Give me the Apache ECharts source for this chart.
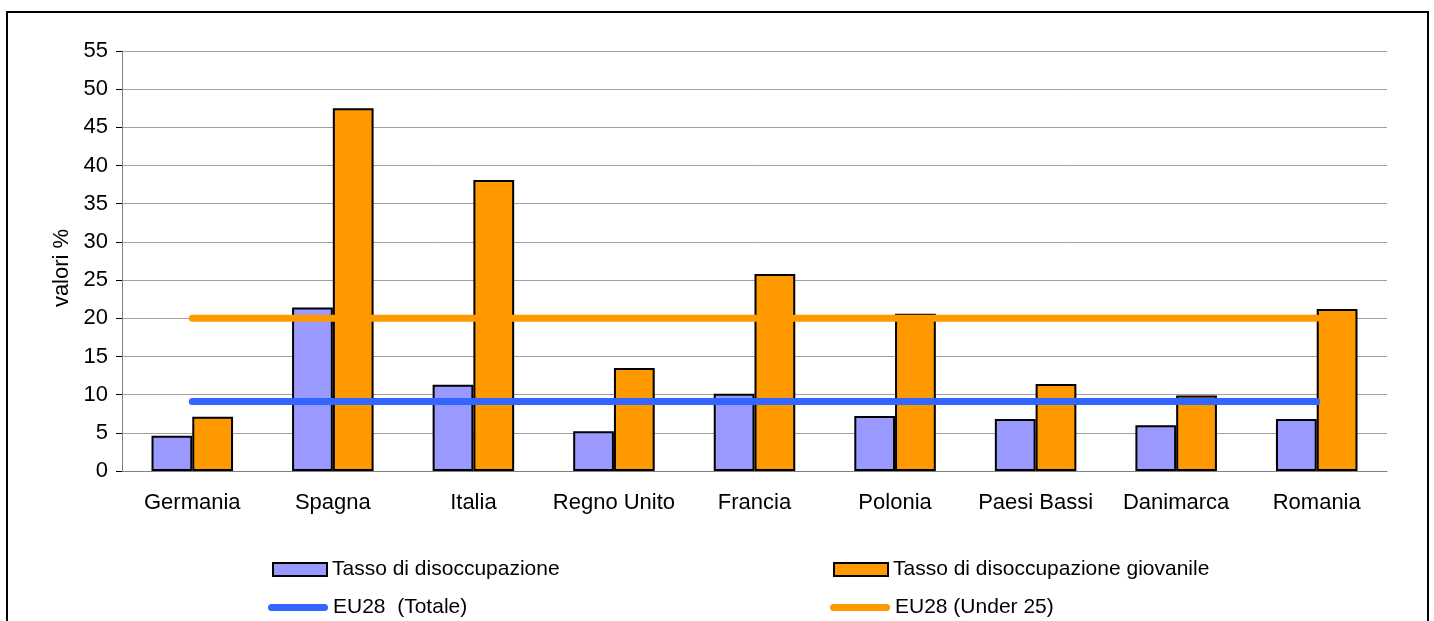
<!DOCTYPE html>
<html>
<head>
<meta charset="utf-8">
<script src="https://cdn.jsdelivr.net/npm/echarts@6/dist/echarts.min.js"></script>
<style>
  html, body { margin: 0; padding: 0; background: #fff; }
  #chart { width: 1434px; height: 621px; }
</style>
</head>
<body>
<div id="chart"></div>
<script>
const countries = ["Germania", "Spagna", "Italia", "Regno Unito", "Francia", "Polonia", "Paesi Bassi", "Danimarca", "Romania"];
const totalRate = [4.6, 21.4, 11.3, 5.2, 10.1, 7.2, 6.8, 6.0, 6.8];
const youthRate = [7.1, 47.5, 38.1, 13.5, 25.8, 20.6, 11.4, 9.9, 21.2];
const eu28Total = [9.1, 9.1, 9.1, 9.1, 9.1, 9.1, 9.1, 9.1, 9.1];
const eu28Under25 = [20.0, 20.0, 20.0, 20.0, 20.0, 20.0, 20.0, 20.0, 20.0];

const font = "'Liberation Sans', Arial, sans-serif";
const pill = "path://M3.5,0 H56.5 A3.5,3.5 0 0 1 56.5,7 H3.5 A3.5,3.5 0 0 1 3.5,0 Z";
const legendText = { fontSize: 21, color: "#000", fontFamily: font };

// one legend per entry, so each sits where it does in the picture
function barLegend(name, left, top) {
  return {
    left, top, padding: 0, icon: "rect", itemWidth: 54, itemHeight: 13,
    textStyle: legendText, data: [name]
  };
}
function lineLegend(name, left, top, color) {
  return {
    left, top, padding: 0, itemWidth: 60, itemHeight: 7, textStyle: legendText,
    data: [{ name, icon: pill, itemStyle: { color, borderWidth: 0 } }]
  };
}

const chart = echarts.init(document.getElementById("chart"));

chart.setOption({
  animation: false,
  textStyle: { fontFamily: font },
  graphic: [
    {
      type: "rect",
      shape: { x: 7, y: 12, width: 1421, height: 700 },
      style: { fill: "none", stroke: "#000", lineWidth: 2 },
      silent: true
    }
  ],
  grid: { left: 122, right: 47, top: 51, bottom: 150 },
  legend: [
    barLegend("Tasso di disoccupazione", 272, 559),
    barLegend("Tasso di disoccupazione giovanile", 833, 559),
    lineLegend("EU28  (Totale)", 268, 597, "#3366ff"),
    lineLegend("EU28 (Under 25)", 830, 597, "#ff9900")
  ],
  xAxis: {
    type: "category",
    data: countries,
    axisLine: { lineStyle: { color: "#808080", width: 1 } },
    axisTick: { length: 7, lineStyle: { color: "#000" } },
    axisLabel: { interval: 0, fontSize: 22, color: "#000", margin: 21, fontFamily: font }
  },
  yAxis: {
    type: "value",
    min: 0,
    max: 55,
    interval: 5,
    name: "valori %",
    nameLocation: "middle",
    nameGap: 48,
    nameRotate: 90,
    nameTextStyle: { fontSize: 22, color: "#000", fontFamily: font, padding: [0, 14, 0, 0] },
    axisLine: { show: true, lineStyle: { color: "#808080", width: 1 } },
    axisTick: { show: true, length: 6, lineStyle: { color: "#000" } },
    axisLabel: { fontSize: 22, color: "#000", margin: 14, fontFamily: font },
    splitLine: { lineStyle: { color: "#a0a0a0", width: 1 } }
  },
  series: [
    {
      name: "Tasso di disoccupazione",
      type: "bar",
      data: totalRate,
      barGap: "0%",
      barCategoryGap: "42%",
      itemStyle: { color: "#9999ff", borderColor: "#000", borderWidth: 2 }
    },
    {
      name: "Tasso di disoccupazione giovanile",
      type: "bar",
      data: youthRate,
      barGap: "0%",
      barCategoryGap: "42%",
      itemStyle: { color: "#ff9900", borderColor: "#000", borderWidth: 2 }
    },
    {
      name: "EU28  (Totale)",
      type: "line",
      data: eu28Total,
      symbol: "none",
      z: 5,
      lineStyle: { color: "#3366ff", width: 7, cap: "round" },
      itemStyle: { color: "#3366ff" }
    },
    {
      name: "EU28 (Under 25)",
      type: "line",
      data: eu28Under25,
      symbol: "none",
      z: 5,
      lineStyle: { color: "#ff9900", width: 7, cap: "round" },
      itemStyle: { color: "#ff9900" }
    }
  ]
});
</script>
</body>
</html>
